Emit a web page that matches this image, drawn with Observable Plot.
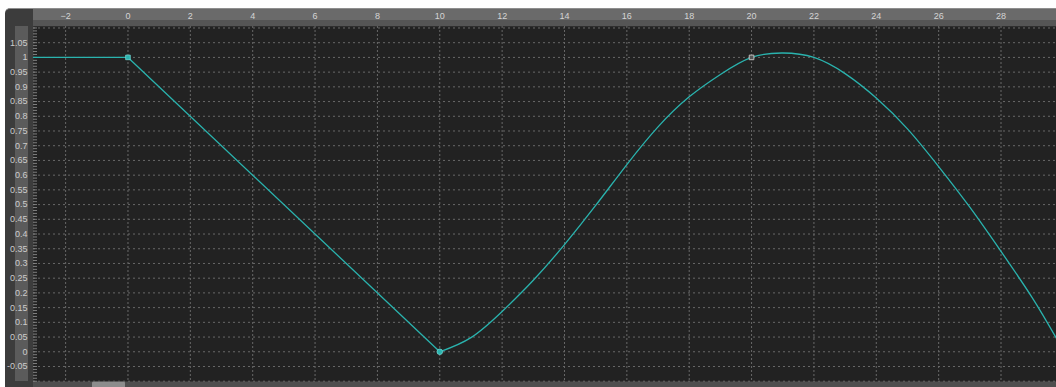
<!DOCTYPE html>
<html><head><meta charset="utf-8">
<script src="https://cdn.jsdelivr.net/npm/d3@7"></script>
<script src="https://cdn.jsdelivr.net/npm/@observablehq/plot@0.6"></script>
<style>
body{margin:0;background:#fff;width:1056px;height:387px;overflow:hidden;position:relative;font-family:"Liberation Sans",Arial,sans-serif}
.c{position:absolute}
</style></head><body>
<div class="c" style="left:5px;top:8px;width:1051px;height:379px;background:#3c3c3c;border-top-left-radius:5px;border-top:1px solid #8e8e8e;box-sizing:border-box"></div>
<div class="c" style="left:33px;top:9px;width:1023px;height:11px;background:#6a6a6a"></div>
<div class="c" style="left:33px;top:20px;width:1023px;height:6px;background:#555"></div>
<div class="c" style="left:15px;top:26px;width:13px;height:355px;background:#5b5b5b"></div>
<div class="c" style="left:33px;top:381px;width:1023px;height:6px;background:#4e4e4e"></div>
<div class="c" style="left:92px;top:381px;width:33px;height:6px;background:#8c8c8c;border-radius:2px 2px 0 0"></div>
<div id="chart" class="c" style="left:0;top:0"></div>
<script>
// tick labels
const xTicks = [-2, 0, 2, 4, 6, 8, 10, 12, 14, 16, 18, 20, 22, 24, 26, 28];
const yTicks = [-0.05, 0, 0.05, 0.1, 0.15, 0.2, 0.25, 0.3, 0.35, 0.4, 0.45, 0.5, 0.55, 0.6, 0.65, 0.7, 0.75, 0.8, 0.85, 0.9, 0.95, 1, 1.05];
const yGridLines = [-0.1, ...yTicks, 1.1];
const yMinor = d3.range(-10, 111).map(i => i / 100);

// linear part of the curve (flat, then straight down)
const linearFrames = [-3.03, 0, 10];
const linearValues = [1, 1, 0];

// smooth part of the curve
const splineFrames = [10, 11, 12, 13, 14, 15, 16, 17, 18, 19, 20, 21, 22, 23, 24, 25, 26, 27, 28, 29, 29.78];
const splineValues = [0, 0.048, 0.137, 0.243, 0.364, 0.497, 0.636, 0.764, 0.866, 0.942, 1.0, 1.015, 1.0, 0.945, 0.862, 0.757, 0.629, 0.491, 0.341, 0.184, 0.045];

// keys
const keyFrames = [0, 10, 20];
const keyValues = [1, 0, 1];

const teal = "#2ab3ae";
const idx = a => a.map((_, i) => i);

const plot = Plot.plot({
  width: 1056, height: 387,
  marginLeft: 33, marginTop: 26, marginRight: 0, marginBottom: 6,
  style: {background: "transparent", color: "#c8c8c8", fontFamily: "Liberation Sans, Arial, sans-serif", fontSize: "9px", overflow: "visible"},
  x: {domain: [-3.03, 29.78]},
  y: {domain: [-0.101, 1.105]},
  marks: [
    Plot.frame({fill: "#222222", stroke: null}),
    Plot.gridX(xTicks, {stroke: "#686868", strokeOpacity: 1, strokeDasharray: "2,2"}),
    Plot.gridY(yGridLines, {stroke: "#686868", strokeOpacity: 1, strokeDasharray: "2,3"}),
    Plot.axisX(xTicks, {anchor: "top", tickSize: 0, tickPadding: 8, label: null, fill: "#d4d4d4"}),
    Plot.axisY(yTicks, {anchor: "left", tickSize: 0, tickPadding: 6, label: null, fill: "#cccccc",
      tickFormat: d => String(+d.toFixed(2))}),
    Plot.axisY(yMinor, {anchor: "left", tickSize: -4, tickFormat: () => "", label: null, stroke: "#8a8a8a", strokeOpacity: 0.9}),
    Plot.line(idx(linearFrames), {x: i => linearFrames[i], y: i => linearValues[i], stroke: teal, strokeWidth: 1.3}),
    Plot.line(idx(splineFrames), {x: i => splineFrames[i], y: i => splineValues[i], curve: "natural", stroke: teal, strokeWidth: 1.3}),
    Plot.dot([0], {x: i => keyFrames[i], y: i => keyValues[i], symbol: "square", r: 2.6, fill: teal, stroke: "#6fd6d2", strokeWidth: 0.8}),
    Plot.dot([1], {x: i => keyFrames[i], y: i => keyValues[i], symbol: "circle", r: 2.8, fill: teal, stroke: "#6fd6d2", strokeWidth: 0.8}),
    Plot.dot([2], {x: i => keyFrames[i], y: i => keyValues[i], symbol: "square", r: 2.6, fill: "#555", stroke: "#bdbdbd", strokeWidth: 1})
  ]
});
document.getElementById("chart").appendChild(plot);
</script>
</body></html>
